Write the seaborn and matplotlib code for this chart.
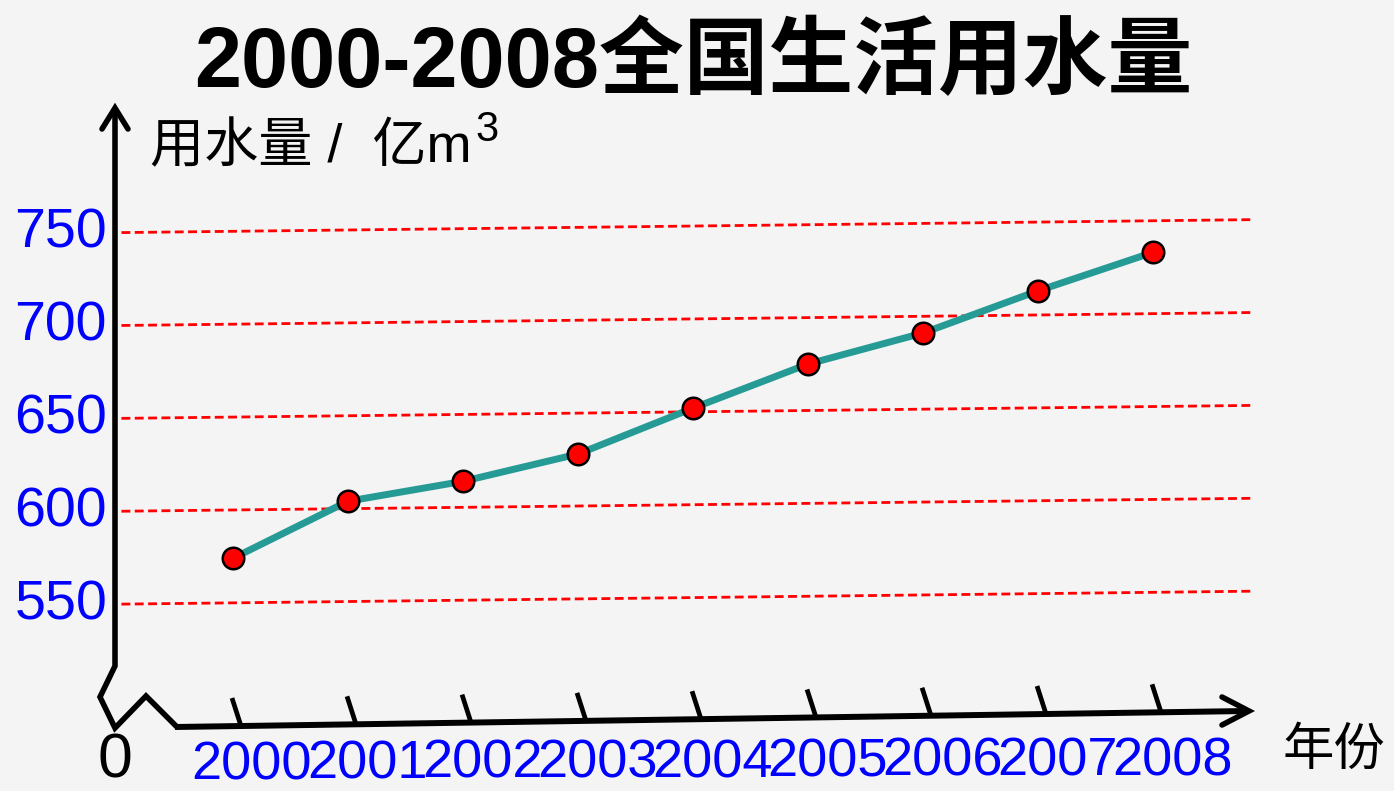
import numpy as np
import pandas as pd
import matplotlib
matplotlib.use("Agg")
import matplotlib.pyplot as plt
import matplotlib.transforms as mtransforms
import seaborn as sns

# ---------------- data ----------------
years = [2000, 2001, 2002, 2003, 2004, 2005, 2006, 2007, 2008]
water_use = [574, 604, 614, 628, 652, 675, 691, 713, 733]
y_ticks = [550, 600, 650, 700, 750]
year_labels = [str(y) for y in years]
title_text = "2000-2008全国生活用水量"
y_label = "用水量 /  亿m"
y_label_sup = "3"
x_label = "年份"
origin_label = "0"

sns.set_theme(style="white")
plt.rcParams["font.family"] = ["Liberation Sans", "Noto Sans CJK SC", "DejaVu Sans"]

W, H = 1394, 791
BG = "#f4f4f4"
fig = plt.figure(figsize=(W / 100, H / 100), dpi=100, facecolor=BG)

AX_L, AX_R, AX_B, AX_T = 115, 1260, 727, 108
ax = fig.add_axes([AX_L / W, 1 - AX_B / H, (AX_R - AX_L) / W, (AX_B - AX_T) / H])
ax.set_facecolor("none")
X0, X1 = 1998.974, 2008.93
ax.set_xlim(X0, X1)
ax.set_ylim(483.9, 817.1)
for s in ax.spines.values():
    s.set_visible(False)
ax.grid(False)
ax.set_xticks([])
ax.set_yticks([])


def to_ax(px, py):
    return (px - AX_L) / (AX_R - AX_L), (AX_B - py) / (AX_B - AX_T)


# slight hand-drawn tilt: shear in data space (zero at left edge)
k = 0.709
shear = mtransforms.Affine2D(np.array([[1, 0, 0], [k, 1, -k * X0], [0, 0, 1]])) + ax.transData

# red dashed gridlines
for v in y_ticks:
    ax.plot([1999.03, 2008.88], [v, v], transform=shear, color="#ff0000",
            lw=2.0, ls=(0, (3.2, 1.6)), zorder=1)

# data line
df = pd.DataFrame({"year": years, "use": water_use})
sns.lineplot(data=df, x="year", y="use", ax=ax, color="#269b96", lw=5.0,
             marker="o", markersize=15.5, markerfacecolor="#ff0000",
             markeredgecolor="black", markeredgewidth=1.8, zorder=3)
ln = ax.get_lines()[-1]
ln.set_transform(shear)
ax.set_xlabel("")
ax.set_ylabel("")

# axes drawn by hand (with break zigzag)
pts_y = [(115, 110), (115, 666), (100, 697), (115, 728), (146, 696), (177, 727)]
xs, ys = zip(*[to_ax(*p) for p in pts_y])
ax.plot(xs, ys, transform=ax.transAxes, color="black", lw=4.0, clip_on=False,
        solid_joinstyle="miter", solid_capstyle="butt", zorder=4)
xa = [to_ax(175, 727), to_ax(1247, 711)]
ax.plot([p[0] for p in xa], [p[1] for p in xa], transform=ax.transAxes, color="black",
        lw=4.3, clip_on=False, solid_capstyle="butt", zorder=4)
for chev in ([(102, 129), (115, 108), (128, 129)], [(1222, 697), (1249, 711), (1222, 725)]):
    cx, cy = zip(*[to_ax(*p) for p in chev])
    ax.plot(cx, cy, transform=ax.transAxes, color="black", lw=4.0, clip_on=False,
            solid_joinstyle="miter", zorder=4)


def axis_y_at(xpx):
    return 727 - 16 * (xpx - 176) / (1249 - 176)


# slanted x ticks and year labels
for yr, lab in zip(years, year_labels):
    xd = ax.transData.transform((yr, 600))[0]
    b = to_ax(xd + 8, axis_y_at(xd + 8))
    t = to_ax(xd - 1, axis_y_at(xd + 8) - 28)
    ax.plot([b[0], t[0]], [b[1], t[1]], transform=ax.transAxes, color="black",
            lw=3.4, clip_on=False, solid_capstyle="butt", zorder=4)
    lx, lyb = to_ax(xd + 19, 779 - 0.5 * (yr - 2000))
    ax.text(lx, lyb, lab, transform=ax.transAxes, ha="center", va="baseline",
            color="#0000ff", fontsize=39, clip_on=False)

# y tick labels
ytrans = mtransforms.offset_copy(
    mtransforms.blended_transform_factory(ax.transAxes, ax.transData),
    fig=fig, x=-8, y=-15, units="dots")
for v in y_ticks:
    ax.text(0, v, str(v), transform=ytrans, ha="right", va="baseline",
            color="#0000ff", fontsize=40, clip_on=False)

# texts
fig.text(693.5 / W, 1 - 87 / H, title_text, ha="center", va="baseline",
         fontsize=61, fontweight="bold", color="black")
yl = fig.text(150 / W, 1 - 162 / H, y_label, ha="left", va="baseline",
              fontsize=39, color="black")
fig.canvas.draw()
bb = yl.get_window_extent()
fig.text((bb.x1 + 4) / W, 1 - 141 / H, y_label_sup, ha="left", va="baseline",
         fontsize=30, color="black")
fig.text(1334 / W, 1 - 765 / H, x_label, ha="center", va="baseline",
         fontsize=37, color="black")
fig.text(115 / W, 1 - 777 / H, origin_label, ha="center", va="baseline",
         fontsize=45, color="black")

fig.savefig("out.png", dpi=100, facecolor=BG)
